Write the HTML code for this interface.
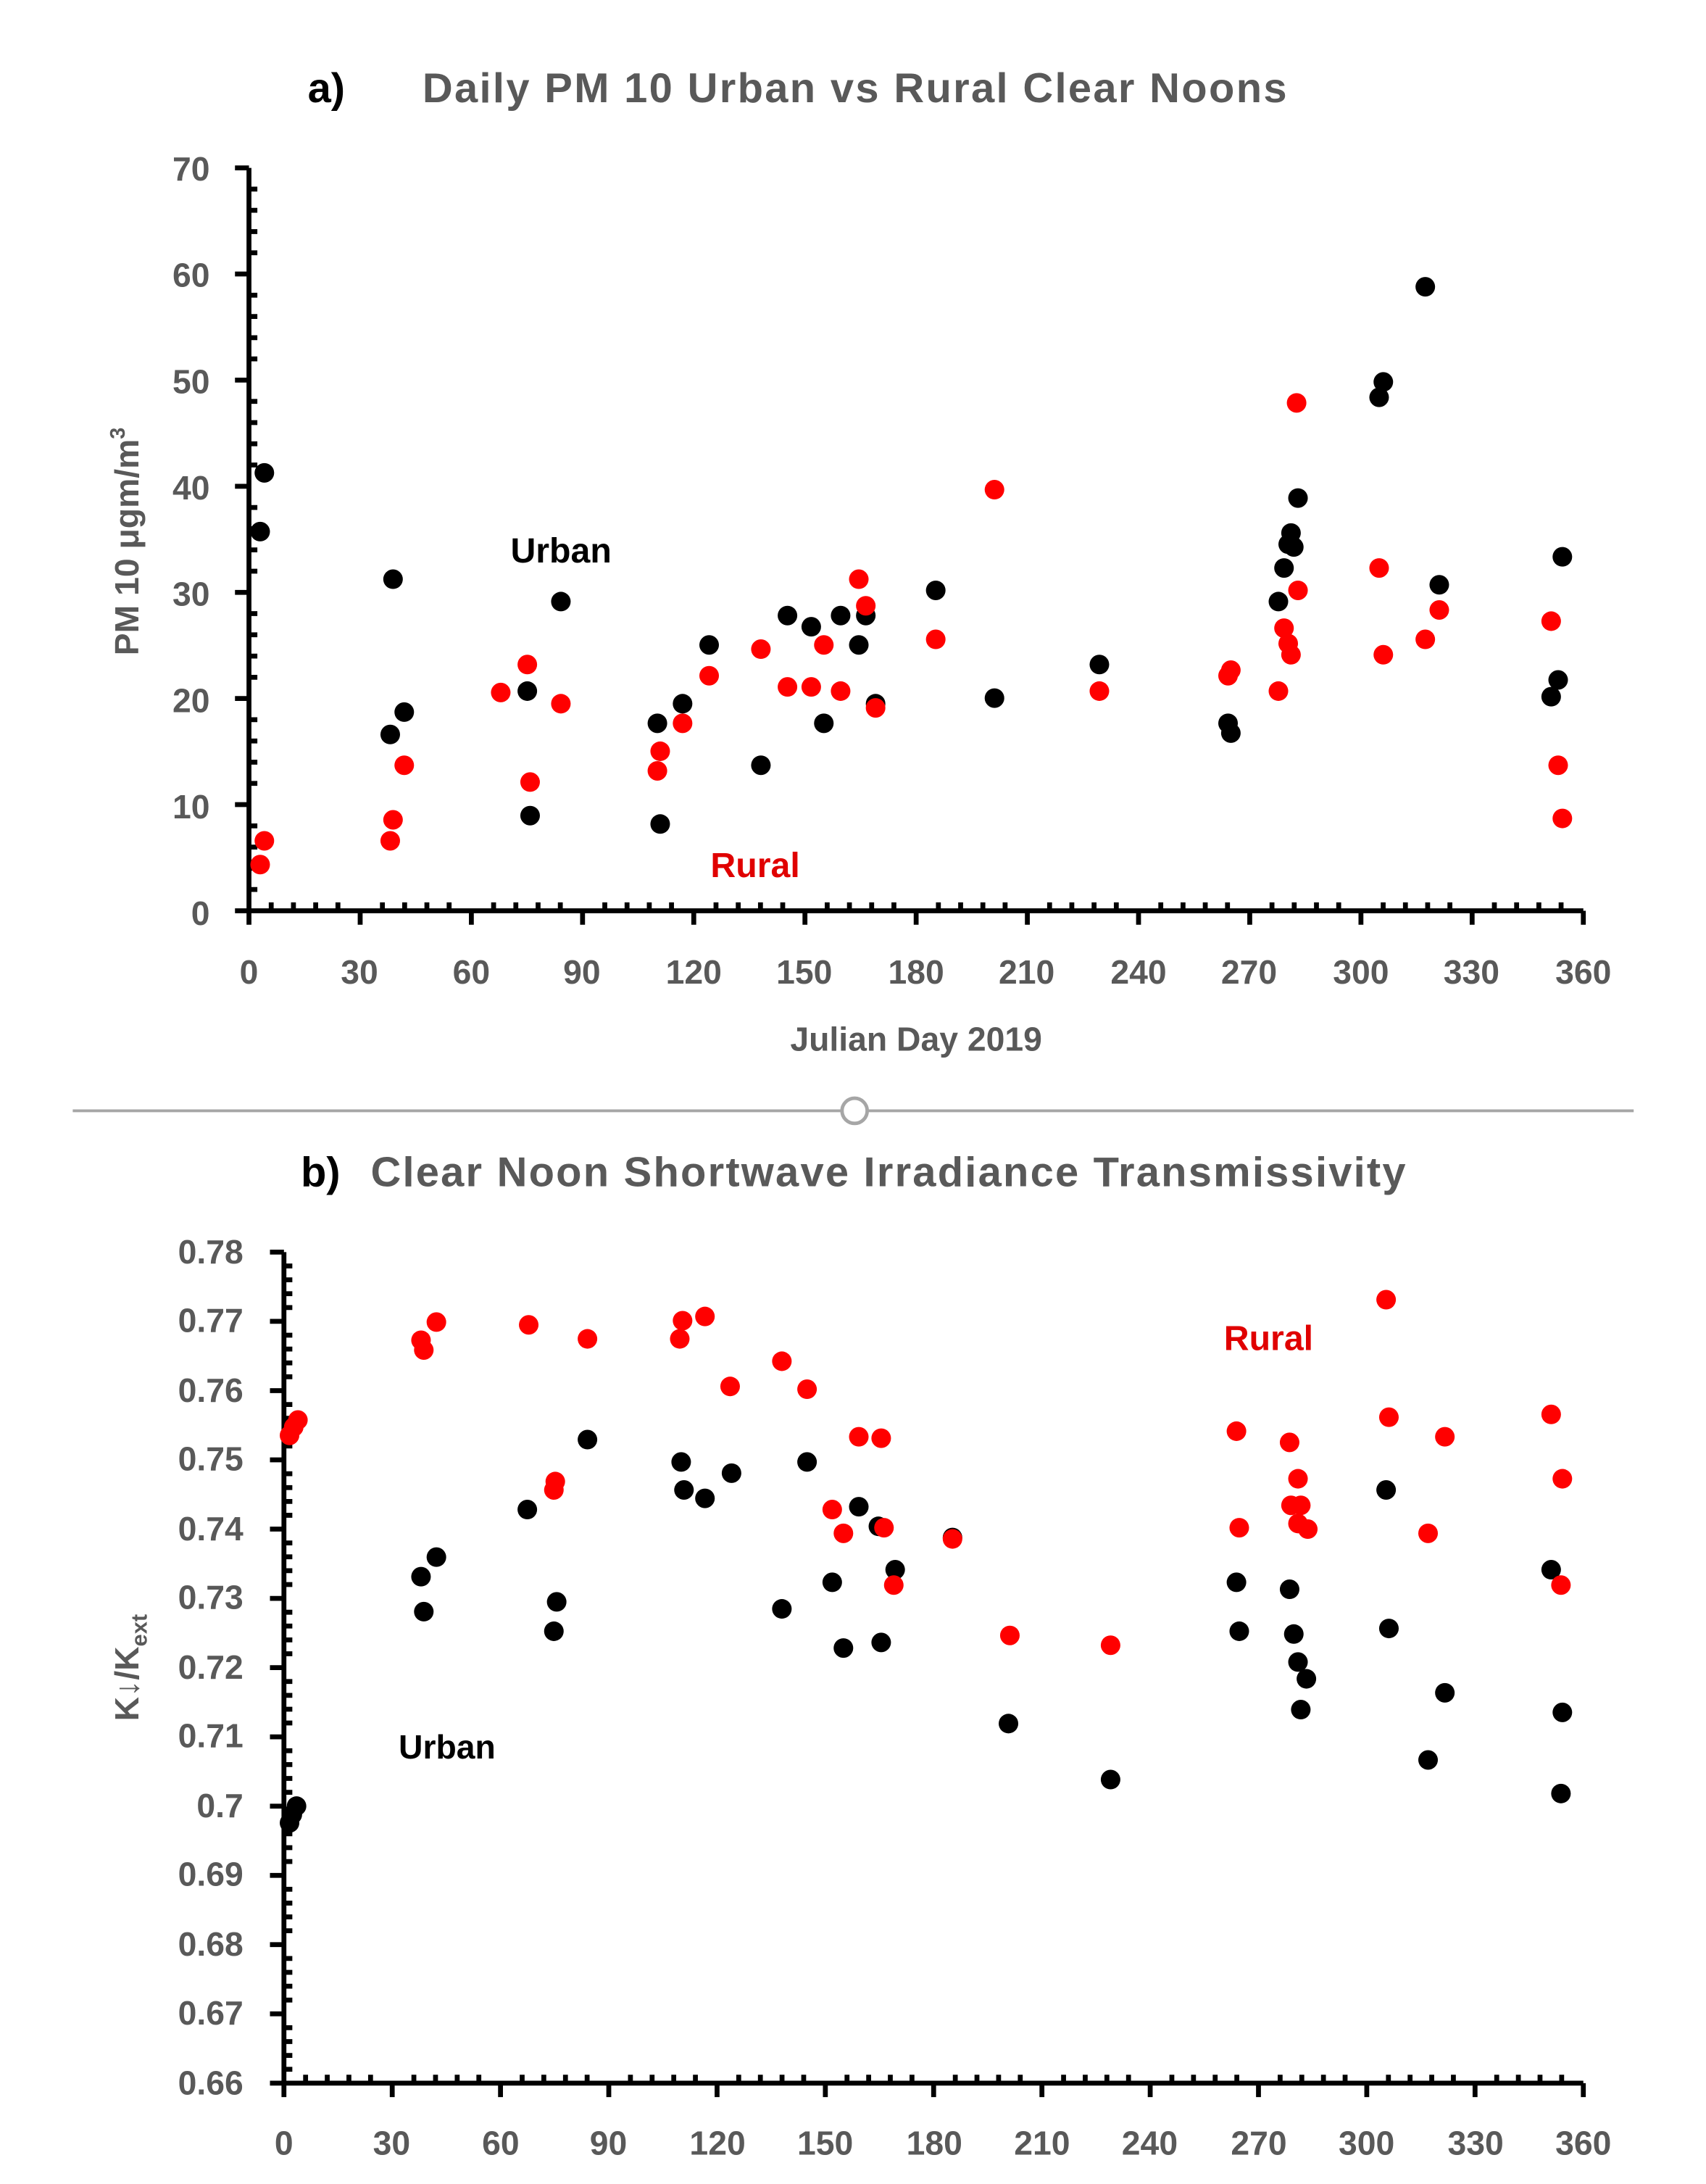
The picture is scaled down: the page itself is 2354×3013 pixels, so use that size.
<!DOCTYPE html>
<html><head><meta charset="utf-8"><style>
html,body{margin:0;padding:0;background:#fff;}
svg{display:block;}
text{font-family:"Liberation Sans",sans-serif;font-weight:bold;}
.t{fill:#595959;font-size:24px;}
.ti{fill:#595959;font-size:30px;}
</style></head><body>
<svg id="s" width="2354" height="3013" viewBox="0 0 1219.7 1561.1" preserveAspectRatio="none" xmlns="http://www.w3.org/2000/svg">
<rect width="1220" height="1562" fill="#fff"/>
<text x="220" y="73" font-size="30" fill="#000">a)</text>
<text x="302" y="73" class="ti" textLength="618">Daily PM 10 Urban vs Rural Clear Noons</text>
<g class="t" text-anchor="end">
<text x="150" y="661">0</text><text x="150" y="585">10</text><text x="150" y="509">20</text><text x="150" y="433">30</text><text x="150" y="357">40</text><text x="150" y="281">50</text><text x="150" y="205">60</text><text x="150" y="129">70</text>
</g>
<g class="t" text-anchor="middle">
<text x="178" y="703">0</text><text x="257" y="703">30</text><text x="337" y="703">60</text><text x="416" y="703">90</text><text x="496" y="703">120</text><text x="575" y="703">150</text><text x="655" y="703">180</text><text x="734" y="703">210</text><text x="814" y="703">240</text><text x="893" y="703">270</text><text x="973" y="703">300</text><text x="1052" y="703">330</text><text x="1132" y="703">360</text>
</g>
<text x="655" y="751" class="t" text-anchor="middle">Julian Day 2019</text>
<text transform="translate(99,387) rotate(-90)" class="t" text-anchor="middle">PM 10 μgm/m<tspan font-size="15" dy="-10">3</tspan></text>
<text x="365" y="402" font-size="25" fill="#000">Urban</text>
<text x="508" y="627" font-size="25" fill="#e00000">Rural</text>
<line x1="52" y1="794" x2="1168" y2="794" stroke="#a6a6a6" stroke-width="2"/>
<circle cx="611" cy="794" r="9" fill="#fff" stroke="#a6a6a6" stroke-width="2.5"/>
<text x="215" y="848" font-size="30" fill="#000">b)</text>
<text x="265" y="848" class="ti" textLength="740">Clear Noon Shortwave Irradiance Transmissivity</text>
<g class="t" text-anchor="end">
<text x="174" y="1497">0.66</text><text x="174" y="1447">0.67</text><text x="174" y="1398">0.68</text><text x="174" y="1348">0.69</text><text x="174" y="1299">0.7</text><text x="174" y="1249">0.71</text><text x="174" y="1200">0.72</text><text x="174" y="1150">0.73</text><text x="174" y="1101">0.74</text><text x="174" y="1051">0.75</text><text x="174" y="1002">0.76</text><text x="174" y="952">0.77</text><text x="174" y="903">0.78</text>
</g>
<g class="t" text-anchor="middle">
<text x="203" y="1540">0</text><text x="280" y="1540">30</text><text x="358" y="1540">60</text><text x="435" y="1540">90</text><text x="513" y="1540">120</text><text x="590" y="1540">150</text><text x="668" y="1540">180</text><text x="745" y="1540">210</text><text x="822" y="1540">240</text><text x="900" y="1540">270</text><text x="977" y="1540">300</text><text x="1055" y="1540">330</text><text x="1132" y="1540">360</text>
</g>
<text transform="translate(99,1192) rotate(-90)" class="t" text-anchor="middle">K↓/K<tspan font-size="16" dy="6">ext</tspan></text>
<text x="285" y="1257" font-size="24" fill="#000">Urban</text>
<text x="875" y="965" font-size="25" fill="#e00000">Rural</text>
<g id="ax" stroke="#000" fill="none"></g>
<g id="dots"></g>
</svg>
<script>
var ax=document.getElementById('ax'),d='';
function L(a,b,c,e){d+='M'+a+' '+b+'L'+c+' '+e;}
var X0=178,X1=1132,Y0=651,Y1=120;
for(var v=0;v<=70;v+=2){var y=Y0-(Y0-Y1)*v/70; if(v%10==0)L(168,y,X0,y); else L(X0,y,X0+6,y);}
for(var v=0;v<=360;v+=6){var x=X0+(X1-X0)*v/360; if(v%30==0)L(x,Y0,x,Y0+10); else L(x,Y0,x,Y0-6);}
L(X0,Y1,X0,Y0+10);L(168,Y0,X1,Y0);
var B0=203,B1=1132,Z0=1489,Z1=895;
for(var i=0;i<=60;i++){var y=Z0-(Z0-Z1)*i/60; if(i%5==0)L(193,y,B0,y); else L(B0,y,B0+6,y);}
for(var v=0;v<=360;v+=6){var x=B0+(B1-B0)*v/360; if(v%30==0)L(x,Z0,x,Z0+10); else L(x,Z0,x,Z0-6);}
L(B0,Z1,B0,Z0+10);L(193,Z0,B1,Z0);
var p=document.createElementNS('http://www.w3.org/2000/svg','path');p.setAttribute('d',d);p.setAttribute('stroke-width','3.5');ax.appendChild(p);
var K=[[186,380],[189,338],[279,525],[281,414],[289,509],[377,494],[379,583],[401,430],[470,517],[472,589],[488,503],[507,461],[544,547],[563,440],[580,448],[589,517],[601,440],[614,461],[619,440],[626,503],[669,422],[711,499],[786,475],[878,517],[880,524],[914,430],[918,406],[921,389],[923,381],[925,391],[928,356],[986,284],[989,273],[1019,205],[1029,418],[1109,498],[1114,486],[1117,398],
[207,1303],[209,1297],[212,1291],[301,1127],[303,1152],[312,1113],[377,1079],[396,1166],[398,1145],[420,1029],[487,1045],[489,1065],[504,1071],[523,1053],[559,1150],[577,1045],[595,1131],[603,1178],[614,1077],[628,1091],[630,1174],[640,1122],[681,1099],[721,1232],[794,1272],[884,1131],[886,1166],[922,1136],[925,1168],[928,1188],[930,1222],[934,1200],[991,1065],[993,1164],[1021,1258],[1033,1210],[1109,1122],[1117,1224],[1116,1282]];
var R=[[186,618],[189,601],[279,601],[281,586],[289,547],[358,495],[377,475],[379,559],[401,503],[470,551],[472,537],[488,517],[507,483],[544,464],[563,491],[580,491],[589,461],[601,494],[614,414],[619,433],[626,506],[669,457],[711,350],[786,494],[878,483],[880,479],[914,494],[918,449],[921,460],[923,468],[927,288],[928,422],[986,406],[989,468],[1019,457],[1029,436],[1109,444],[1114,547],[1117,585],
[207,1026],[210,1020],[213,1015],[301,958],[303,965],[312,945],[378,947],[396,1065],[397,1059],[420,957],[486,957],[488,944],[504,941],[522,991],[559,973],[577,993],[595,1079],[603,1096],[614,1027],[630,1028],[632,1092],[639,1133],[681,1100],[722,1169],[794,1176],[884,1023],[886,1092],[922,1031],[923,1076],[928,1057],[928,1089],[930,1076],[935,1093],[991,929],[993,1013],[1021,1096],[1033,1027],[1109,1011],[1117,1057],[1116,1133]];
var g=document.getElementById('dots');
function dot(a,c){var e=document.createElementNS('http://www.w3.org/2000/svg','circle');e.setAttribute('cx',a[0]);e.setAttribute('cy',a[1]);e.setAttribute('r',7);e.setAttribute('fill',c);g.appendChild(e);}
K.forEach(function(a){dot(a,'#000');});R.forEach(function(a){dot(a,'#ff0000');});
</script>
</body></html>
